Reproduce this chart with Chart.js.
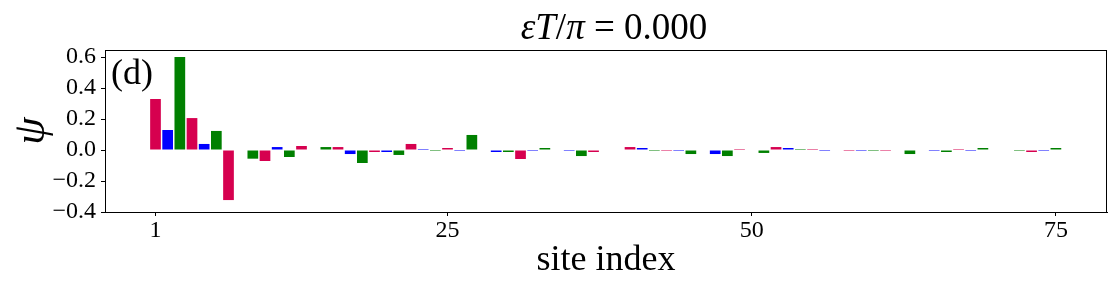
<!DOCTYPE html>
<html>
<head>
<meta charset="utf-8">
<script src="https://cdn.jsdelivr.net/npm/chart.js@4.4.1/dist/chart.umd.min.js"></script>
<style>
  html, body { margin: 0; padding: 0; background: #fff; }
  #wrap { width: 1114px; height: 284px; }
</style>
</head>
<body>
<div id="wrap"><canvas id="psi_chart" width="1114" height="284"></canvas></div>
<script>
// site indices 1..75
var sites = [];
for (var n = 1; n <= 75; n++) sites.push(n);

// wavefunction amplitude per site
var psi = [
     0.329,  0.129,  0.600,  0.206,  0.039,  0.123, -0.323,  0.000, -0.056, -0.071,
     0.019, -0.045,  0.026,  0.000,  0.019,  0.019, -0.026, -0.084, -0.013, -0.013,
    -0.032,  0.039,  0.0065,-0.0065, 0.013, -0.0065, 0.097,  0.000, -0.013, -0.013,
    -0.058, -0.0065, 0.013,  0.000, -0.0065,-0.039, -0.013,  0.000,  0.000,  0.019,
     0.013, -0.0065,-0.0065,-0.0065,-0.026,  0.000, -0.026, -0.039,  0.0065, 0.000,
    -0.019,  0.019,  0.013,  0.0065, 0.0065,-0.0065, 0.000, -0.0065,-0.0065,-0.0065,
    -0.0065, 0.000, -0.026,  0.000, -0.0065,-0.013,  0.0065,-0.0065, 0.013,  0.000,
     0.000, -0.0065,-0.013, -0.0065, 0.013
];

var xTicks = [1, 25, 50, 75];
var yTicks = [-0.4, -0.2, 0.0, 0.2, 0.4, 0.6];

// three sublattice colours, repeating
var siteColors = ['#D6004F', '#0000FF', '#008000'];

var serif = "'Liberation Serif', 'DejaVu Serif', serif";

// Title with mixed italic / upright parts, plus the panel tag and the box.
var decorations = {
    id: 'decorations',
    afterDraw: function(chart) {
        var ctx = chart.ctx;
        var a = chart.chartArea;
        ctx.save();

        // frame
        ctx.strokeStyle = '#000';
        ctx.lineWidth = 1;
        ctx.strokeRect(Math.round(a.left) + 0.5, Math.round(a.top) + 0.5,
                       Math.round(a.right - a.left) - 1, Math.round(a.bottom - a.top));

        // title
        var parts = [
            { t: 'ε', it: true },
            { t: 'T', it: true },
            { t: '/', it: false },
            { t: 'π', it: true },
            { t: ' = 0.000', it: false }
        ];
        var size = 37;
        var total = 0;
        parts.forEach(function(p) {
            ctx.font = (p.it ? 'italic ' : '') + size + 'px ' + serif;
            p.w = ctx.measureText(p.t).width;
            total += p.w;
        });
        var x = 614 - total / 2;
        ctx.fillStyle = '#000';
        ctx.textBaseline = 'alphabetic';
        ctx.textAlign = 'left';
        parts.forEach(function(p) {
            ctx.font = (p.it ? 'italic ' : '') + size + 'px ' + serif;
            ctx.fillText(p.t, x, 39);
            x += p.w;
        });

        // panel tag
        ctx.font = '36px ' + serif;
        ctx.textBaseline = 'alphabetic';
        ctx.fillText('(d)', a.left + 6, 84);

        ctx.restore();
    }
};

var ctx = document.getElementById('psi_chart');

var data = {
    datasets: [{
        data: sites.map(function(s, i) { return { x: s, y: psi[i] }; }),
        backgroundColor: function(c) { return siteColors[c.dataIndex % 3]; },
        borderWidth: 0,
        categoryPercentage: 1.0,
        barPercentage: 0.88
    }]
};

var options = {
    responsive: false,
    animation: false,
    devicePixelRatio: 1,
    layout: {
        padding: { top: 50, right: 7, bottom: 0, left: 0 }
    },
    scales: {
        x: {
            type: 'linear',
            offset: false,
            min: -3.15,
            max: 79.2,
            afterBuildTicks: function(scale) {
                scale.ticks = xTicks.map(function(v) { return { value: v }; });
            },
            afterFit: function(scale) { scale.height = 72; },
            grid: { offset: false, drawOnChartArea: false, drawTicks: true, tickLength: 4, color: '#000' },
            border: { display: true, color: '#000' },
            ticks: {
                color: '#000',
                padding: 3,
                maxRotation: 0,
                autoSkip: false,
                font: { family: serif, size: 24, lineHeight: 1 },
                callback: function(v) { return String(v); }
            },
            title: {
                display: true,
                text: 'site index',
                color: '#000',
                font: { family: serif, size: 36, lineHeight: 1 },
                padding: { top: 0, bottom: 5 }
            }
        },
        y: {
            min: -0.4,
            max: 0.6452,
            afterBuildTicks: function(scale) {
                scale.ticks = yTicks.map(function(v) { return { value: v }; });
            },
            afterFit: function(scale) { scale.width = 105; },
            grid: { drawOnChartArea: false, drawTicks: true, tickLength: 4, color: '#000' },
            border: { display: true, color: '#000' },
            ticks: {
                color: '#000',
                padding: 5,
                font: { family: serif, size: 24, lineHeight: 1 },
                callback: function(v) { return v.toFixed(1).replace('-', '\u2212'); }
            },
            title: {
                display: true,
                text: 'ψ',
                color: '#000',
                font: { family: serif, size: 44, style: 'italic', lineHeight: 1 },
                padding: { top: 10, bottom: 0 }
            }
        }
    },
    plugins: {
        legend: { display: false },
        tooltip: { enabled: false },
        title: { display: false }
    }
};

var bar = new Chart(ctx, { type: 'bar', data: data, options: options, plugins: [decorations] });
</script>
</body>
</html>
